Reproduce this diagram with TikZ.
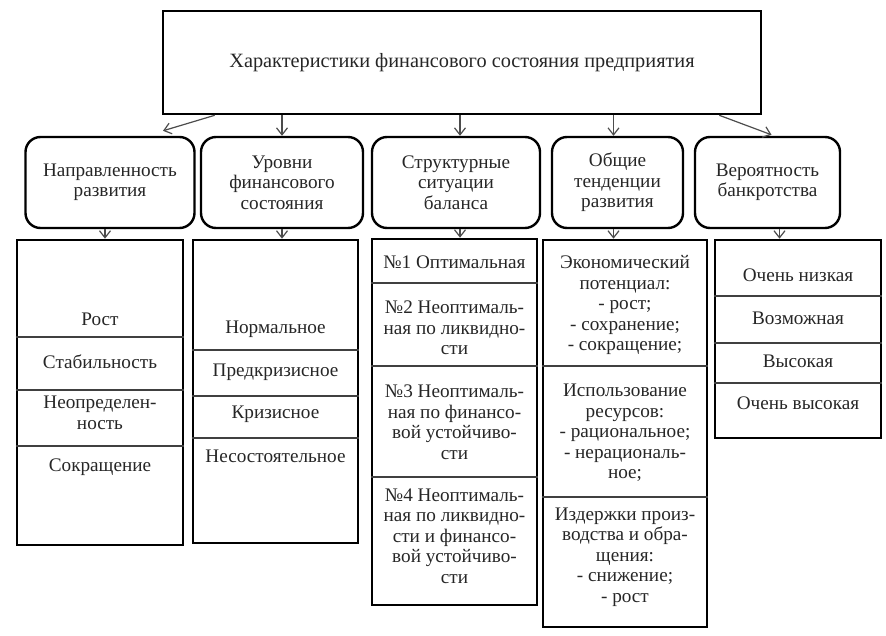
\documentclass[tikz,border=0pt]{standalone}
\usepackage{fontspec}
\setmainfont{Liberation Serif}
\usetikzlibrary{arrows.meta,calc}
\tikzstyle{head}=[draw=black, line width=2.6pt, minimum width=598pt, minimum height=103pt, font=\fontsize{20.3}{22}\selectfont]
\tikzstyle{group}=[draw=black, line width=2.4pt, rounded corners=15pt, align=center, minimum height=91pt]
\tikzstyle{list}=[draw=black, line width=2.6pt]
\tikzstyle{item}=[align=center, inner sep=0pt]
\tikzstyle{sep}=[line width=1.2pt, draw=black!75]
\tikzstyle{edge}=[draw=black!70, line width=1.2pt, -{Straight Barb[length=7pt,width=11pt]}]

\begin{document}
\begin{tikzpicture}[x=1pt, y=-1pt, font=\fontsize{19.2}{20.5}\selectfont, text=black!85]
            \useasboundingbox (0,0) rectangle (886,636);
            \node[head] (top) at (462,62.5) {Характеристики финансового состояния предприятия};
            \node[group, minimum width=169pt] (dev) at (110,182.5) {Направленность\\развития};
            \node[group, minimum width=162pt] (lvl) at (282,182.5) {Уровни\\финансового\\состояния};
            \node[group, minimum width=168pt] (bal) at (456,182.5) {Структурные\\ситуации\\баланса};
            \node[group, minimum width=131pt] (tr) at (617.5,182.5) {Общие\\тенденции\\развития};
            \node[group, minimum width=145pt] (risk) at (767.5,182.5) {Вероятность\\банкротства};
            \node[list, minimum width=166pt, minimum height=305pt] (devs) at (100,392.5) {};
            \node[list, minimum width=165pt, minimum height=303pt] (lvls) at (275.5,391.5) {};
            \node[list, minimum width=165pt, minimum height=366pt] (bals) at (454.5,422) {};
            \node[list, minimum width=164pt, minimum height=387pt] (trs) at (625,433.5) {};
            \node[list, minimum width=166pt, minimum height=198pt] (risks) at (798,339) {};
            \foreach \y in {337,390,446} \draw[sep] (devs.west |- 0,\y) -- (devs.east |- 0,\y);
            \foreach \y in {350,396,438} \draw[sep] (lvls.west |- 0,\y) -- (lvls.east |- 0,\y);
            \foreach \y in {283,366,477} \draw[sep] (bals.west |- 0,\y) -- (bals.east |- 0,\y);
            \foreach \y in {366,497} \draw[sep] (trs.west |- 0,\y) -- (trs.east |- 0,\y);
            \foreach \y in {296,343,383} \draw[sep] (risks.west |- 0,\y) -- (risks.east |- 0,\y);
            \node[item] (dev1) at (100,319) {Рост};
            \node[item] (dev2) at (100,362) {Стабильность};
            \node[item] (dev3) at (100,413) {Неопределен-\\ность};
            \node[item] (dev4) at (100,467) {Сокращение};
            \node[item] (lvl1) at (275.5,329) {Нормальное};
            \node[item] (lvl2) at (275.5,372) {Предкризисное};
            \node[item] (lvl3) at (275.5,414) {Кризисное};
            \node[item] (lvl4) at (275.5,456) {Несостоятельное};
            \node[item] (bal1) at (454.5,262) {№1 Оптимальная};
            \node[item] (bal2) at (454.5,328) {№2 Неоптималь-\\ная по ликвидно-\\сти};
            \node[item] (bal3) at (454.5,422) {№3 Неоптималь-\\ная по финансо-\\вой устойчиво-\\сти};
            \node[item] (bal4) at (454.5,536) {№4 Неоптималь-\\ная по ликвидно-\\сти и финансо-\\вой устойчиво-\\сти};
            \node[item] (tr1) at (625,305) {Экономический\\потенциал:\\- рост;\\- сохранение;\\- сокращение;};
            \node[item] (tr2) at (625,433) {Использование\\ресурсов:\\- рациональное;\\- нерациональ-\\ное;};
            \node[item] (tr3) at (625,557) {Издержки произ-\\водства и обра-\\щения:\\- снижение;\\- рост};
            \node[item] (risk1) at (798,275) {Очень низкая};
            \node[item] (risk2) at (798,318) {Возможная};
            \node[item] (risk3) at (798,361) {Высокая};
            \node[item] (risk4) at (798,403) {Очень высокая};
            \draw[edge] ($(top.south west)+(53,0)$) -- ($(dev.north)+(53,-5)$);
            \draw[edge] (top.south -| lvl.north) -- (lvl.north);
            \draw[edge] ($(top.south -| bal.north)+(4,0)$) -- ($(bal.north)+(4,0)$);
            \draw[edge] ($(top.south -| tr.north)+(-4,0)$) -- ($(tr.north)+(-4,0)$);
            \draw[edge] ($(top.south east)+(-43,0)$) -- ($(risk.north)+(4,-1)$);
            \draw[edge] ($(dev.south)+(-5,0)$) -- ($(dev.south |- devs.north)+(-5,0)$);
            \draw[edge] (lvl.south) -- (lvl.south |- lvls.north);
            \draw[edge] ($(bal.south)+(4,0)$) -- ($(bal.south |- bals.north)+(4,0)$);
            \draw[edge] ($(tr.south)+(-4,0)$) -- ($(tr.south |- trs.north)+(-4,0)$);
            \draw[edge] ($(risk.south)+(12,0)$) -- ($(risk.south |- risks.north)+(12,0)$);
	    \end{tikzpicture}
\end{document}
